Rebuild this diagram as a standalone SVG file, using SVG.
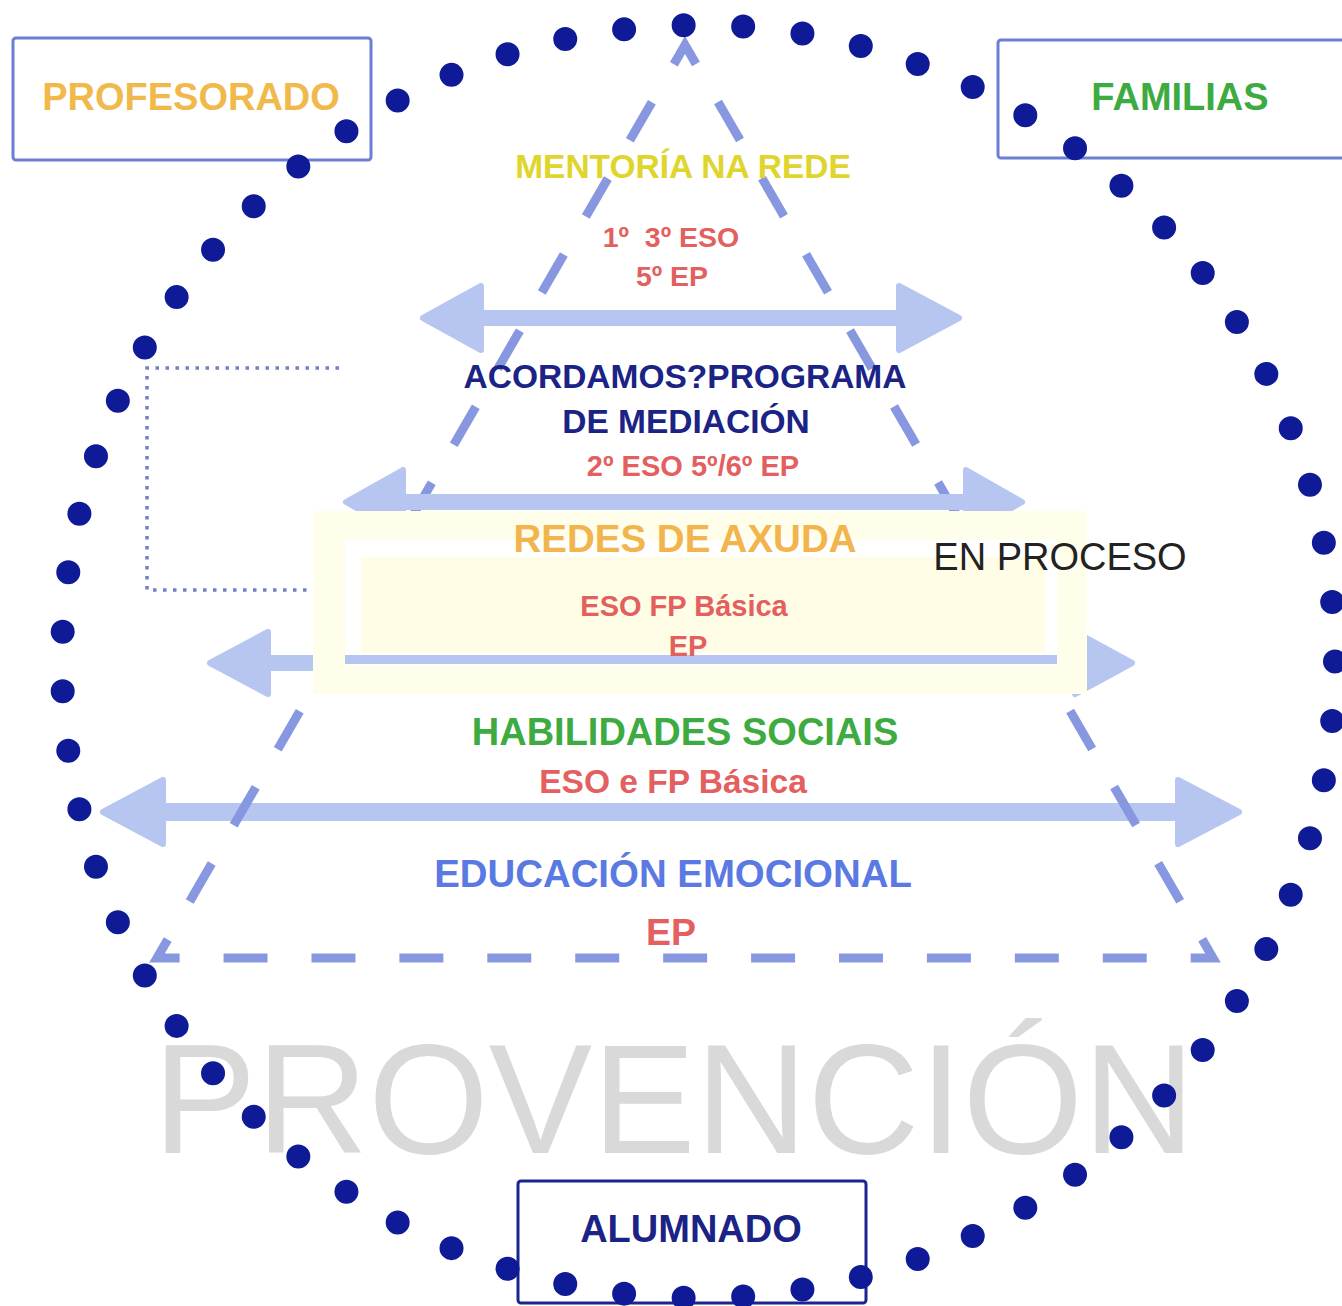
<svg xmlns="http://www.w3.org/2000/svg" width="1342" height="1306" viewBox="0 0 1342 1306">
<style>
.t{font-family:"Liberation Sans",Arial,sans-serif;font-weight:bold;text-anchor:middle}
.r{fill:#e3605f}
.arrow{fill:#b6c6f1;stroke:#b6c6f1;stroke-width:6;stroke-linejoin:round}
.box{fill:#ffffff;stroke:#6b7fd4;stroke-width:3}
</style>
<rect width="1342" height="1306" fill="#ffffff"/>
<text id="provencion" x="674" y="1153" font-family="Liberation Sans, Arial, sans-serif" font-size="155" fill="#d9d9d9" text-anchor="middle">PROVENCIÓN</text>
<g id="connectors">
<path id="arrow4" class="arrow" d="M103 812 L163 780 L163 806 L1178 806 L1178 780 L1239 812 L1178 844 L1178 818 L163 818 L163 844 Z"/>
<path id="triangle" d="M685 45 L1213 958 L157 958 Z" fill="none" stroke="#8797e0" stroke-width="9" stroke-dasharray="43.96 43.96" stroke-dashoffset="22"/>
<path id="arrow1" class="arrow" d="M423 318 L481 286 L481 313 L899 313 L899 286 L959 318 L899 350 L899 323 L481 323 L481 350 Z"/>
<path id="arrow2" class="arrow" d="M346 502 L403 470 L403 497 L966 497 L966 470 L1022 502 L966 534 L966 507 L403 507 L403 534 Z"/>
<path id="arrow3" class="arrow" d="M210 663 L268 632 L268 658 L1075 658 L1075 632 L1132 663 L1075 694 L1075 668 L268 668 L268 694 Z"/>
<path id="bracket" d="M339 368 H147 V590 H313" fill="none" stroke="#7080c8" stroke-width="3.5" stroke-dasharray="3.5 6.5"/>
</g>
<g id="redes-box">
<rect x="313" y="511" width="774" height="183" fill="#fffeea"/>
<rect x="345" y="540" width="712" height="125" fill="#ffffff"/>
<rect x="361" y="557" width="684" height="96" fill="#fffde6"/>
<rect x="345" y="655" width="712" height="9" fill="#b6c6f1"/>
</g>
<g id="profesorado">
<rect class="box" x="13" y="38" width="358" height="122" rx="3"/>
<text class="t" x="191" y="110" font-size="38" fill="#f1b94c">PROFESORADO</text>
</g>
<g id="familias">
<rect class="box" x="998" y="40" width="370" height="118" rx="3"/>
<text class="t" x="1180" y="110" font-size="38" fill="#3dab3f">FAMILIAS</text>
</g>
<g id="alumnado">
<rect x="518" y="1181" width="348" height="122" rx="3" fill="#ffffff" stroke="#1b2590" stroke-width="3"/>
<text class="t" x="691" y="1242" font-size="38" fill="#1b2385">ALUMNADO</text>
</g>
<g id="mentoria">
<text class="t" x="683" y="178" font-size="33.5" fill="#dfd52c">MENTORÍA NA REDE</text>
<text class="t r" x="671" y="247" font-size="28.5" xml:space="preserve">1º  3º ESO</text>
<text class="t r" x="672" y="286" font-size="28.5">5º EP</text>
</g>
<g id="mediacion">
<text class="t" x="685" y="388" font-size="33.5" fill="#1b2385">ACORDAMOS?PROGRAMA</text>
<text class="t" x="686" y="433" font-size="33.5" fill="#1b2385">DE MEDIACIÓN</text>
<text class="t r" x="693" y="476" font-size="29">2º ESO 5º/6º EP</text>
</g>
<g id="redes">
<text class="t" x="685" y="552" font-size="38.5" fill="#f2b54e">REDES DE AXUDA</text>
<text class="t r" x="684" y="616" font-size="29">ESO FP Básica</text>
<text class="t r" x="688" y="656" font-size="29">EP</text>
</g>
<g id="en-proceso">
<text x="1060" y="570" font-family="Liberation Sans, Arial, sans-serif" font-size="38" fill="#222222" text-anchor="middle">EN PROCESO</text>
</g>
<g id="habilidades">
<text class="t" x="685" y="745" font-size="38" fill="#3dab3f">HABILIDADES SOCIAIS</text>
<text class="t r" x="673" y="793" font-size="33.5">ESO e FP Básica</text>
</g>
<g id="educacion">
<text class="t" x="673" y="887" font-size="38.4" fill="#5a79e2">EDUCACIÓN EMOCIONAL</text>
<text class="t r" x="671" y="945" font-size="37.5">EP</text>
</g>
<g id="dots-circle">
<circle cx="698.5" cy="661.5" r="636.5" fill="none" stroke="#0e1a96" stroke-width="24" stroke-linecap="round" stroke-dasharray="0 1" pathLength="67"/>
</g>
</svg>
